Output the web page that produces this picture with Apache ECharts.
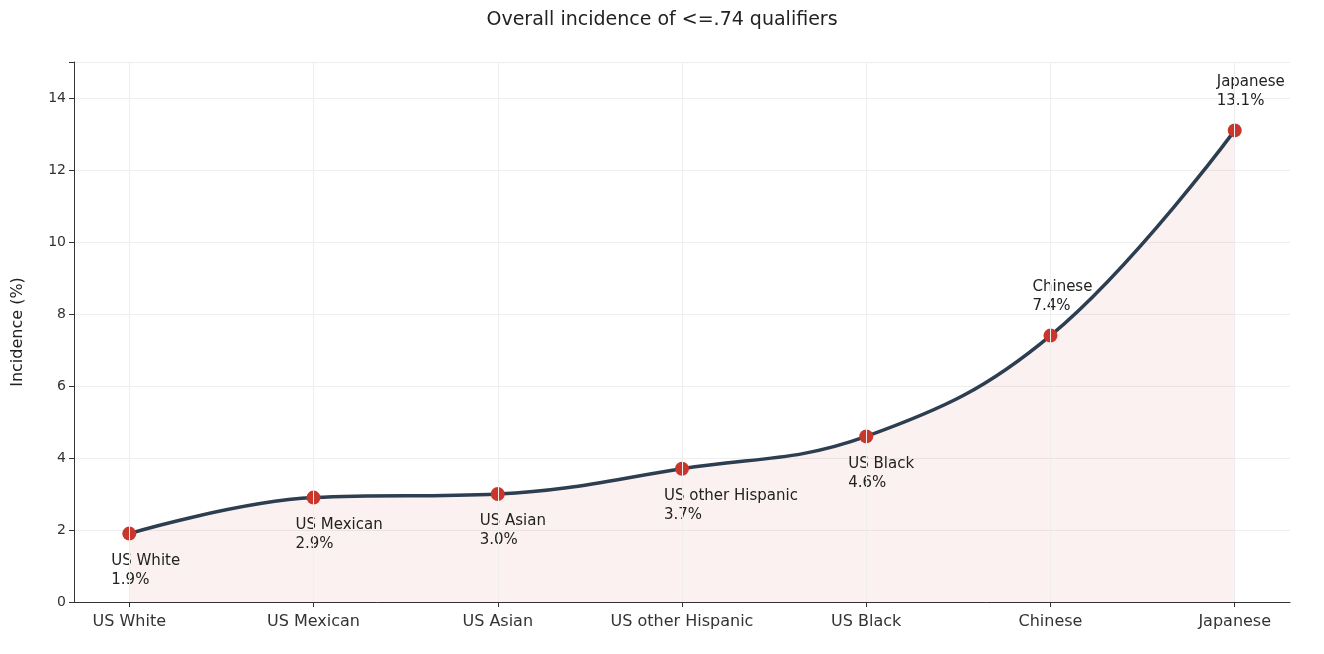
<!DOCTYPE html>
<html lang="en">
<head>
<meta charset="UTF-8">
<title>Overall incidence</title>
<script src="https://cdn.jsdelivr.net/npm/echarts@6/dist/echarts.min.js"></script>
</head>
<body style="margin:0">
<div id="chart" style="width:1324px;height:654px"></div>
<script>
    let groups = ['US White', 'US Mexican', 'US Asian', 'US other Hispanic', 'US Black', 'Chinese', 'Japanese'];
    let incidence = [1.9, 2.9, 3.0, 3.7, 4.6, 7.4, 13.1];
    let yTicks = [0, 2, 4, 6, 8, 10, 12, 14];

    let myChart = echarts.init(document.getElementById('chart'));
    let pts = incidence.map(function (v, i) {
        let above = i >= 5;
        return {
            value: [i, v],
            label: {
                position: above ? 'top' : 'bottom',
                offset: above ? [-18, -8] : [-18, 6]
            }
        };
    });
    let idx = groups.map(function (g, i) { return i; });

    let option = {
        title: {
            text: 'Overall incidence of <=.74 qualifiers',
            left: 'center', top: 6,
            textStyle: {fontFamily: 'DejaVu Sans', fontSize: 19, fontWeight: 'normal', color: '#222'}
        },
        grid: {left: 74, right: 34, top: 62, bottom: 52},
        xAxis: {
            type: 'value', min: -0.3, max: 6.3,
            axisLine: {lineStyle: {color: '#333'}},
            axisTick: {customValues: idx, lineStyle: {color: '#333'}},
            axisLabel: {
                customValues: idx,
                formatter: function (v) { return groups[Math.round(v)]; },
                fontFamily: 'DejaVu Sans', fontSize: 16, color: '#333', margin: 12
            },
            splitLine: {show: false}
        },
        yAxis: {
            type: 'value', min: 0, max: 15, interval: 2,
            name: 'Incidence (%)', nameLocation: 'middle', nameGap: 48,
            nameTextStyle: {fontFamily: 'DejaVu Sans', fontSize: 16, color: '#222'},
            axisLine: {show: true, onZero: false, lineStyle: {color: '#333'}},
            axisTick: {show: true, lineStyle: {color: '#333'}},
            axisLabel: {
                fontFamily: 'DejaVu Sans', fontSize: 14, color: '#333',
                formatter: function (v) { return yTicks.indexOf(v) >= 0 ? v : ''; }
            },
            splitLine: {lineStyle: {color: '#eee'}}
        },
        series: [{
            type: 'line',
            data: [],
            z: 1,
            markLine: {
                silent: true, symbol: 'none', label: {show: false},
                lineStyle: {color: '#eee', type: 'solid', width: 1},
                data: idx.map(function (i) { return {xAxis: i}; })
            }
        }, {
            type: 'line',
            smooth: 0.4,
            data: pts,
            symbol: 'circle', symbolSize: 14,
            itemStyle: {color: '#c9372c'},
            lineStyle: {color: '#2c3e50', width: 3.5},
            areaStyle: {color: 'rgba(192,57,43,0.1)'},
            label: {
                show: true, align: 'left',
                fontFamily: 'DejaVu Sans', fontSize: 15, color: '#222', lineHeight: 19,
                formatter: function (p) {
                    return groups[p.dataIndex] + '\n' + p.value[1].toFixed(1) + '%';
                }
            },
            z: 3
        }]
    };
    myChart.setOption(option);
</script>
</body>
</html>
